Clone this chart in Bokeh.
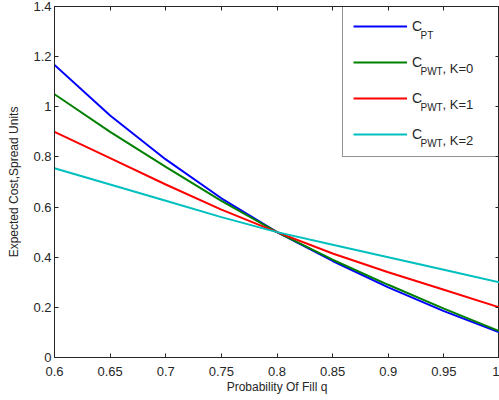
from bokeh.plotting import figure
from bokeh.models import Legend, LegendItem, Label, FixedTicker, Range1d, LinearAxis
from bokeh.embed import file_html
from bokeh.resources import INLINE

# ---- data ----
q = [0.6, 0.65, 0.7, 0.75, 0.8, 0.85, 0.9, 0.95, 1.0]
c_pt = [1.167, 0.965, 0.79, 0.635, 0.5, 0.385, 0.28, 0.185, 0.1]
c_pwt_k0 = [1.05, 0.9, 0.76, 0.625, 0.5, 0.39, 0.29, 0.195, 0.105]
c_pwt_k1 = [0.9, 0.795, 0.69, 0.59, 0.5, 0.415, 0.34, 0.27, 0.2]
c_pwt_k2 = [0.755, 0.69, 0.625, 0.56, 0.5, 0.45, 0.4, 0.35, 0.3]

x_ticks = [0.6, 0.65, 0.7, 0.75, 0.8, 0.85, 0.9, 0.95, 1.0]
x_tick_labels = ["0.6", "0.65", "0.7", "0.75", "0.8", "0.85", "0.9", "0.95", "1"]
y_ticks = [0, 0.2, 0.4, 0.6, 0.8, 1.0, 1.2, 1.4]
y_tick_labels = ["0", "0.2", "0.4", "0.6", "0.8", "1", "1.2", "1.4"]

series_subs = ["PT", "PWT", "PWT", "PWT"]
series_suffix = ["", ", K=0", ", K=1", ", K=2"]
colors = ["#0000FF", "#008000", "#FF0000", "#00BFBF"]

FONT = "Liberation Sans"
TXT = "#262626"

W, H = 499, 400
LEFT, TOP, BOTTOM = 54, 6, 43

p = figure(width=W, height=H, output_backend="svg", toolbar_location=None,
           x_range=Range1d(0.6, 1.0), y_range=Range1d(0, 1.4),
           min_border_left=LEFT, min_border_right=0, min_border_top=TOP,
           min_border_bottom=BOTTOM)
p.xgrid.visible = False
p.ygrid.visible = False
p.outline_line_color = TXT
p.outline_line_width = 1
p.background_fill_color = "white"
p.border_fill_color = "white"

for ax, ticks, labels in ((p.xaxis[0], x_ticks, x_tick_labels), (p.yaxis[0], y_ticks, y_tick_labels)):
    ax.ticker = FixedTicker(ticks=ticks)
    ax.major_label_overrides = {t: l for t, l in zip(ticks, labels)}
    ax.major_tick_in = 4
    ax.major_tick_out = 0
    ax.minor_tick_line_color = None
    ax.axis_line_color = TXT
    ax.major_tick_line_color = TXT
    ax.major_label_text_font = FONT
    ax.major_label_text_font_size = "13px"
    ax.major_label_text_color = TXT
    ax.axis_label_text_font = FONT
    ax.axis_label_text_font_size = "12px"
    ax.axis_label_text_font_style = "normal"
    ax.axis_label_text_color = TXT

p.xaxis.axis_label = "Probability Of Fill q"
p.yaxis.axis_label = "Expected Cost,Spread Units"
p.xaxis.major_label_standoff = 9
p.xaxis.axis_label_standoff = 1
p.yaxis.major_label_standoff = 3
p.yaxis.axis_label_standoff = 9

# mirrored inward ticks on the top and right edges (no labels)
for ticks, side in ((x_ticks, "above"), (y_ticks, "right")):
    ax = LinearAxis(ticker=FixedTicker(ticks=ticks), major_tick_in=4, major_tick_out=0,
                    minor_tick_line_color=None, axis_line_color=None,
                    major_tick_line_color=TXT, major_label_text_font_size="0px",
                    major_label_text_color=None, major_label_standoff=0)
    p.add_layout(ax, side)

renderers = []
for ys, c in zip([c_pt, c_pwt_k0, c_pwt_k1, c_pwt_k2], colors):
    renderers.append(p.line(q, ys, line_color=c, line_width=2))

frame_bottom = H - BOTTOM           # 357
legend_left, legend_top, legend_h = 342, 5, 152
legend = Legend(items=[LegendItem(label="C", renderers=[r]) for r in renderers],
                location=(legend_left - LEFT, frame_bottom - legend_top - legend_h),
                padding=10, spacing=12, glyph_width=54,
                glyph_height=24, label_height=24, label_width=160, label_standoff=5,
                margin=0, border_line_color=TXT, border_line_width=1,
                background_fill_color="white", background_fill_alpha=0,
                label_text_font=FONT, label_text_font_size="14px", label_text_color=TXT)
p.add_layout(legend)

c_right = legend_left + 10 + 54 + 5 + 9   # right end of the "C"
for i, (sub, suf) in enumerate(zip(series_subs, series_suffix)):
    L = legend_top + 22 + 36 * i  # canvas y of the swatch line
    p.add_layout(Label(x=c_right, y=L + 8, x_units="canvas", y_units="canvas",
                       text=sub, text_font=FONT, text_font_size="10px", text_color=TXT,
                       text_baseline="alphabetic", level="overlay"))
    if suf:
        p.add_layout(Label(x=c_right + 22, y=L + 5, x_units="canvas", y_units="canvas",
                           text=suf, text_font=FONT, text_font_size="13px",
                           text_color=TXT, text_baseline="alphabetic", level="overlay"))

open("out.html", "w").write(file_html(p, INLINE))
